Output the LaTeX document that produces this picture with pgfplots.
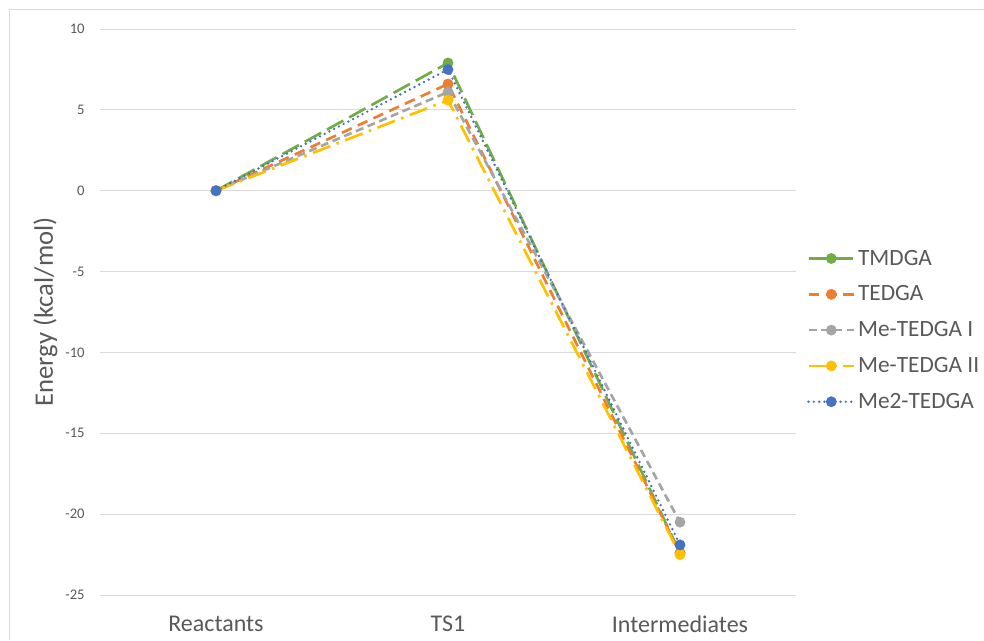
\documentclass[border=0pt]{standalone}
\usepackage{pgfplots}
\pgfplotsset{compat=1.18}
\usepackage{fontspec}
\setmainfont{Carlito}
\definecolor{cgreen}{HTML}{70AD47}
\definecolor{corange}{HTML}{ED7D31}
\definecolor{cgrey}{HTML}{A5A5A5}
\definecolor{cyellow}{HTML}{FFC000}
\definecolor{cblue}{HTML}{4472C4}
\definecolor{gridc}{HTML}{D9D9D9}
\definecolor{txt}{HTML}{595959}
\begin{document}
\begin{tikzpicture}
\path[use as bounding box] (-75pt,-33.75pt) rectangle (663pt,446.25pt);
\draw[gridc, line width=0.75pt] (-67.5pt,-33.75pt) -- (-67.5pt,438.75pt) -- (663pt,438.75pt);
\begin{axis}[
  at={(0,0)}, anchor=south west,
  scale only axis, width=522pt, height=424.5pt,
  xmin=-0.5, xmax=2.5, ymin=-25, ymax=10,
  xtick={0,1,2}, xticklabels={Reactants,TS1,Intermediates},
  ytick={-25,-20,...,10},
  xmajorgrids=false, ymajorgrids=true,
  major grid style={gridc, line width=0.75pt},
  axis line style={draw=none},
  major tick length=0pt,
  tick label style={text=txt},
  xticklabel style={font=\fontsize{18}{20}\selectfont, yshift=-12pt},
  yticklabel style={font=\fontsize{11}{13}\selectfont, xshift=-8pt},
  /pgf/number format/assume math mode=true,
  ylabel={Energy (kcal/mol)},
  ylabel style={font=\fontsize{20}{23}\selectfont, text=txt, yshift=-1pt},
  clip=false,
  every axis plot/.append style={line width=2pt, mark=*, mark size=3pt, mark options={solid}},
  legend style={draw=none, fill=none, at={(1.01,0.468)}, anchor=west,
    font=\fontsize{17.5}{21}\selectfont, text=txt, row sep=10pt,
    legend cell align=left},
  legend image code/.code={
    \draw[#1, line width=2pt] (0cm,0cm) -- (1.2cm,0cm);
    \draw[#1, only marks] plot coordinates {(0.6cm,0cm)};
  },
]
\addplot[cgreen, dash pattern=on 14pt off 5pt] coordinates {(0,0) (1,7.9) (2,-22.4)};
\addlegendentry{TMDGA}
\addplot[corange, dash pattern=on 8pt off 5pt] coordinates {(0,0) (1,6.6) (2,-22.4)};
\addlegendentry{TEDGA}
\addplot[cgrey, dash pattern=on 6pt off 3.5pt] coordinates {(0,0) (1,6.1) (2,-20.5)};
\addlegendentry{Me-TEDGA I}
\addplot[cyellow, dash pattern=on 14pt off 5pt on 2pt off 5pt] coordinates {(0,0) (1,5.6) (2,-22.5)};
\addlegendentry{Me-TEDGA II}
\addplot[cblue, line cap=round, dash pattern=on 0pt off 4pt] coordinates {(0,0) (1,7.5) (2,-21.9)};
\addlegendentry{Me2-TEDGA}
\end{axis}
\end{tikzpicture}
\end{document}
